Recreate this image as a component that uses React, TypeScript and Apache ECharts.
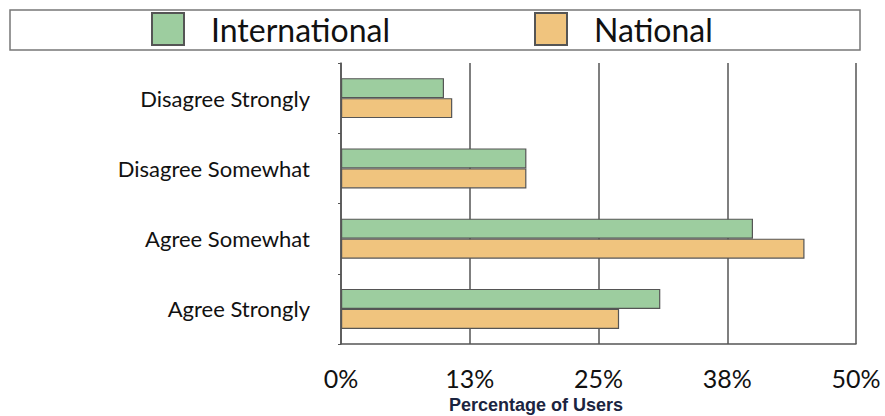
import React, { useEffect, useRef } from "react";
import * as echarts from "echarts";

const categories = ["Disagree Strongly", "Disagree Somewhat", "Agree Somewhat", "Agree Strongly"];
const internationalValues = [10, 18, 40, 31];
const nationalValues = [10.8, 18, 45, 27];
const seriesNames = ["International", "National"];
const axisTitle = "Percentage of Users";

const GREEN = "#9dcd9f";
const ORANGE = "#f0c47e";
const FONT = "Lato, 'Open Sans', sans-serif";

export default function App() {
  const ref = useRef<HTMLDivElement>(null);
  useEffect(() => {
    if (!ref.current) return;
    const chart = echarts.init(ref.current, undefined, { renderer: "svg" });
    chart.setOption({
      animation: false,
      backgroundColor: "#ffffff",
      legend: [
        {
          data: [seriesNames[0]],
          left: 146,
          top: 7,
          itemWidth: 32,
          itemHeight: 32,
          icon: "rect",
          selectedMode: false,
          textStyle: { fontFamily: FONT, fontSize: 32, color: "#111", padding: [0, 0, 0, 22] },
        },
        {
          data: [seriesNames[1]],
          left: 529,
          top: 7,
          itemWidth: 32,
          itemHeight: 32,
          icon: "rect",
          selectedMode: false,
          textStyle: { fontFamily: FONT, fontSize: 32, color: "#111", padding: [0, 0, 0, 22] },
        },
      ],
      graphic: [
        {
          type: "rect",
          shape: { x: 10, y: 10, width: 850, height: 40 },
          style: { fill: "none", stroke: "#777", lineWidth: 1.5 },
          z: -1,
        },
        {
          type: "text",
          x: 536,
          y: 405,
          style: {
            text: axisTitle,
            fontFamily: "'Liberation Sans', Arial, sans-serif",
            fontWeight: "bold",
            fontSize: 18,
            fill: "#1b2440",
            align: "center",
            verticalAlign: "middle",
          },
        },
      ],
      grid: { left: 341, right: 29, top: 63, bottom: 72, containLabel: false },
      xAxis: {
        type: "value",
        min: 0,
        max: 50,
        interval: 12.5,
        axisLine: { show: true, lineStyle: { color: "#555", width: 1.5 } },
        axisTick: { show: false },
        splitLine: { show: true, lineStyle: { color: "#555", width: 1.5 } },
        axisLabel: {
          formatter: (v: number) => Math.round(v) + "%",
          fontFamily: FONT,
          fontSize: 25,
          lineHeight: 25,
          color: "#111",
          margin: 21,
        },
      },
      yAxis: {
        type: "category",
        data: categories,
        inverse: true,
        axisLine: { show: true, lineStyle: { color: "#555", width: 1.5 } },
        axisTick: { show: true, length: 3, lineStyle: { color: "#555" } },
        axisLabel: { fontFamily: FONT, fontSize: 22, color: "#111", margin: 31 },
        splitLine: { show: false },
      },
      series: [
        {
          name: seriesNames[0],
          type: "bar",
          data: internationalValues,
          barWidth: 20,
          barGap: "0%",
          itemStyle: { color: GREEN, borderColor: "#555", borderWidth: 1.2 },
        },
        {
          name: seriesNames[1],
          type: "bar",
          data: nationalValues,
          barWidth: 20,
          barGap: "0%",
          itemStyle: { color: ORANGE, borderColor: "#555", borderWidth: 1.2 },
        },
      ],
    });
    return () => chart.dispose();
  }, []);
  return <div ref={ref} style={{ width: 885, height: 416, position: "absolute", left: 0, top: 0 }} />;
}
